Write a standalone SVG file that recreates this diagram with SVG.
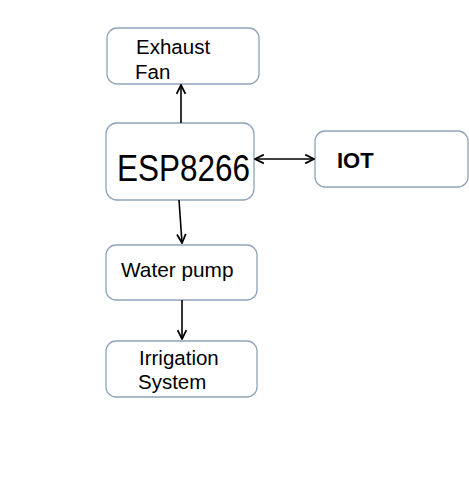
<svg xmlns="http://www.w3.org/2000/svg" width="469" height="487" viewBox="0 0 469 487">
<style>
.box{fill:#ffffff;stroke:#8ea4bb;stroke-width:1.3}
.t{font-family:"Liberation Sans",Arial,sans-serif;fill:#000}
.c{stroke:#000;stroke-width:1.6;fill:none}
</style>
<defs>
<marker id="ah" viewBox="0 0 10 10" refX="9" refY="5" markerWidth="11" markerHeight="11" markerUnits="userSpaceOnUse" orient="auto-start-reverse">
<path d="M1,1 L9,5 L1,9" fill="none" stroke="#000" stroke-width="1.6"/>
</marker>
</defs>
<rect width="469" height="487" fill="#ffffff"/>
<g id="exhaust-fan">
<rect class="box" x="107" y="28" width="152" height="56" rx="10"/>
<text class="t" x="136" y="54" font-size="20.5">Exhaust</text>
<text class="t" x="135" y="79" font-size="20.5">Fan</text>
</g>
<g id="esp8266">
<rect class="box" x="106" y="123" width="148" height="77" rx="11"/>
<text class="t" x="117" y="181" font-size="36" textLength="133" lengthAdjust="spacingAndGlyphs">ESP8266</text>
</g>
<g id="iot">
<rect class="box" x="315" y="131" width="153" height="56" rx="10"/>
<text class="t" x="337" y="168" font-size="22" font-weight="bold">IOT</text>
</g>
<g id="water-pump">
<rect class="box" x="106" y="245" width="151" height="55" rx="10"/>
<text class="t" x="121" y="277" font-size="20.8">Water pump</text>
</g>
<g id="irrigation-system">
<rect class="box" x="106" y="341" width="151" height="56" rx="10"/>
<text class="t" x="139" y="365" font-size="20.5">Irrigation</text>
<text class="t" x="138" y="389" font-size="20.5">System</text>
</g>
<g id="connectors">
<line class="c" x1="181" y1="123" x2="181" y2="85" marker-end="url(#ah)"/>
<line class="c" x1="255" y1="159" x2="314" y2="159" marker-start="url(#ah)" marker-end="url(#ah)"/>
<line class="c" x1="179" y1="200" x2="182" y2="243" marker-end="url(#ah)"/>
<line class="c" x1="182" y1="300" x2="182" y2="339" marker-end="url(#ah)"/>
</g>
</svg>
